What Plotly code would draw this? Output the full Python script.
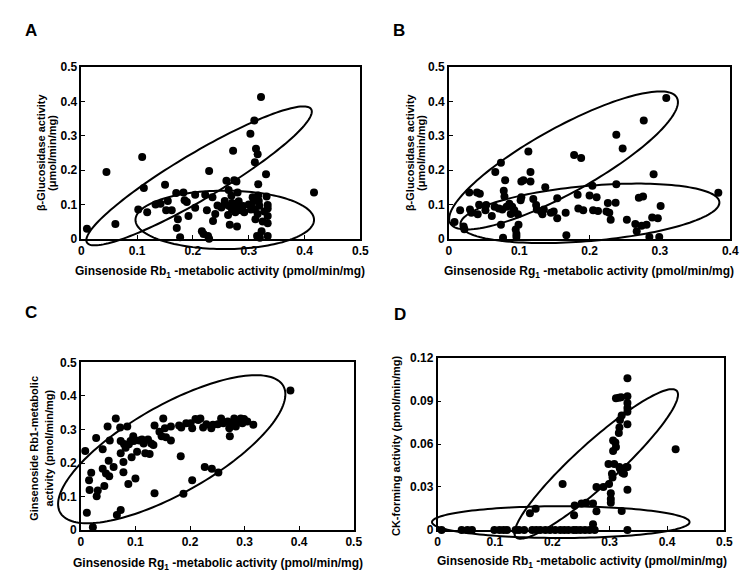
import numpy as np
import plotly.graph_objects as go

# Panel A: Rb1-metabolic activity vs beta-glucosidase activity
a_x = [0.010, 0.045, 0.061, 0.109, 0.112, 0.102, 0.118, 0.133, 0.142, 0.150, 0.152, 0.155, 0.162,
       0.170, 0.173, 0.171, 0.177, 0.183, 0.185, 0.189, 0.192, 0.204, 0.204, 0.216, 0.219, 0.222,
       0.225, 0.227, 0.229, 0.229, 0.235, 0.236, 0.240, 0.244, 0.251, 0.256, 0.257, 0.260, 0.263,
       0.264, 0.266, 0.269, 0.270, 0.270, 0.272, 0.274, 0.275, 0.276, 0.278, 0.280, 0.279, 0.282,
       0.284, 0.286, 0.292, 0.303, 0.304, 0.307, 0.309, 0.310, 0.311, 0.311, 0.312, 0.313, 0.315,
       0.316, 0.316, 0.317, 0.317, 0.319, 0.320, 0.322, 0.323, 0.325, 0.328, 0.331, 0.332, 0.334,
       0.334, 0.334, 0.334, 0.334, 0.417, 0.300, 0.305, 0.318, 0.290, 0.265]
a_y = [0.029, 0.194, 0.043, 0.238, 0.148, 0.085, 0.077, 0.100, 0.102, 0.157, 0.083, 0.110, 0.083,
       0.133, 0.057, 0.031, 0.004, 0.135, 0.112, 0.107, 0.066, 0.090, 0.128, 0.022, 0.014, 0.128,
       0.083, 0.008, 0.000, 0.197, 0.121, 0.052, 0.072, 0.097, 0.091, 0.099, 0.110, 0.169, 0.069,
       0.142, 0.041, 0.125, 0.104, 0.085, 0.256, 0.170, 0.093, 0.077, 0.167, 0.135, 0.036, 0.109,
       0.091, 0.083, 0.077, 0.306, 0.085, 0.121, 0.110, 0.344, 0.085, 0.223, 0.057, 0.262, 0.008,
       0.246, 0.072, 0.159, 0.126, 0.096, 0.003, 0.413, 0.022, 0.050, 0.079, 0.188, 0.123, 0.098,
       0.088, 0.066, 0.045, 0.008, 0.135, 0.100, 0.095, 0.110, 0.095, 0.095]

# Panel B: Rg1-metabolic activity vs beta-glucosidase activity
b_x = [0.008, 0.016, 0.021, 0.022, 0.029, 0.030, 0.032, 0.040, 0.041, 0.043, 0.044, 0.052, 0.053,
       0.061, 0.065, 0.066, 0.071, 0.074, 0.074, 0.076, 0.077, 0.078, 0.079, 0.080, 0.082, 0.086,
       0.088, 0.090, 0.093, 0.095, 0.096, 0.096, 0.098, 0.099, 0.102, 0.103, 0.103, 0.106, 0.113,
       0.116, 0.116, 0.120, 0.124, 0.125, 0.131, 0.133, 0.135, 0.137, 0.145, 0.149, 0.154, 0.154,
       0.166, 0.167, 0.178, 0.183, 0.184, 0.188, 0.191, 0.200, 0.204, 0.205, 0.210, 0.212, 0.224,
       0.226, 0.228, 0.230, 0.238, 0.238, 0.237, 0.247, 0.253, 0.265, 0.267, 0.270, 0.274, 0.276,
       0.277, 0.281, 0.285, 0.289, 0.291, 0.297, 0.299, 0.301, 0.309, 0.383]
b_y = [0.049, 0.083, 0.036, 0.028, 0.135, 0.085, 0.076, 0.135, 0.071, 0.099, 0.131, 0.083, 0.098,
       0.066, 0.093, 0.194, 0.088, 0.041, 0.221, 0.085, 0.003, 0.140, 0.123, 0.170, 0.093, 0.102,
       0.072, 0.093, 0.083, 0.027, 0.014, 0.006, 0.071, 0.041, 0.112, 0.167, 0.121, 0.170, 0.254,
       0.194, 0.167, 0.116, 0.098, 0.085, 0.079, 0.071, 0.085, 0.150, 0.076, 0.079, 0.118, 0.060,
       0.076, 0.010, 0.244, 0.128, 0.088, 0.235, 0.083, 0.126, 0.154, 0.083, 0.121, 0.081, 0.079,
       0.104, 0.076, 0.055, 0.303, 0.159, 0.105, 0.263, 0.055, 0.043, 0.022, 0.119, 0.038, 0.123,
       0.344, 0.041, 0.005, 0.062, 0.188, 0.060, 0.005, 0.095, 0.410, 0.134]

# Panel C: Rg1-metabolic vs Rb1-metabolic activity
c_x = [0.008, 0.011, 0.015, 0.016, 0.019, 0.022, 0.028, 0.029, 0.031, 0.040, 0.040, 0.043, 0.046,
       0.049, 0.051, 0.052, 0.053, 0.060, 0.064, 0.066, 0.072, 0.073, 0.073, 0.073, 0.078, 0.078,
       0.079, 0.082, 0.085, 0.087, 0.088, 0.091, 0.093, 0.096, 0.097, 0.100, 0.103, 0.107, 0.112,
       0.115, 0.118, 0.123, 0.126, 0.129, 0.133, 0.135, 0.135, 0.144, 0.148, 0.151, 0.154, 0.156,
       0.165, 0.165, 0.180, 0.183, 0.184, 0.188, 0.193, 0.201, 0.204, 0.204, 0.210, 0.215, 0.219,
       0.224, 0.227, 0.230, 0.239, 0.240, 0.242, 0.251, 0.252, 0.257, 0.261, 0.269, 0.272, 0.273,
       0.276, 0.281, 0.284, 0.287, 0.293, 0.296, 0.299, 0.305, 0.316, 0.384]
c_y = [0.236, 0.052, 0.149, 0.120, 0.171, 0.009, 0.275, 0.101, 0.118, 0.241, 0.183, 0.132, 0.169,
       0.309, 0.207, 0.161, 0.267, 0.188, 0.333, 0.045, 0.306, 0.060, 0.229, 0.266, 0.203, 0.173,
       0.257, 0.246, 0.309, 0.138, 0.256, 0.266, 0.217, 0.280, 0.266, 0.154, 0.234, 0.267, 0.270,
       0.258, 0.229, 0.270, 0.227, 0.258, 0.254, 0.312, 0.110, 0.293, 0.280, 0.333, 0.304, 0.277,
       0.267, 0.309, 0.312, 0.220, 0.306, 0.109, 0.319, 0.319, 0.304, 0.149, 0.331, 0.328, 0.333,
       0.306, 0.188, 0.316, 0.304, 0.183, 0.314, 0.316, 0.172, 0.333, 0.319, 0.324, 0.304, 0.280,
       0.314, 0.333, 0.309, 0.324, 0.333, 0.319, 0.331, 0.324, 0.314, 0.416]

# Panel D: Rb1-metabolic vs CK-forming activity
d_x = [0.007, 0.042, 0.052, 0.060, 0.099, 0.108, 0.115, 0.121, 0.136, 0.142, 0.151, 0.165, 0.172,
       0.179, 0.188, 0.196, 0.205, 0.214, 0.221, 0.228, 0.237, 0.242, 0.249, 0.257, 0.265, 0.274,
       0.331, 0.271, 0.161, 0.171, 0.218, 0.238, 0.239, 0.251, 0.259, 0.271, 0.277, 0.277, 0.289,
       0.298, 0.299, 0.302, 0.302, 0.302, 0.304, 0.305, 0.306, 0.306, 0.308, 0.310, 0.311, 0.311,
       0.316, 0.317, 0.316, 0.317, 0.318, 0.318, 0.320, 0.321, 0.322, 0.321, 0.325, 0.329, 0.331,
       0.331, 0.331, 0.331, 0.331, 0.331, 0.331, 0.331, 0.415]
d_y = [0.0, 0.0, 0.0, 0.0, 0.0, 0.0, 0.0, 0.0, 0.0, 0.0, 0.0, 0.0, 0.0,
       0.0, 0.0, 0.0, 0.0, 0.0, 0.0, 0.0, 0.0, 0.0, 0.0, 0.0, 0.0, 0.0,
       0.0, 0.004, 0.0116, 0.0148, 0.032, 0.0102, 0.017, 0.0184, 0.0189, 0.0184, 0.013, 0.030, 0.030,
       0.046, 0.032, 0.0257, 0.0216, 0.0189, 0.0393, 0.0366, 0.0625, 0.0552, 0.046, 0.061, 0.058, 0.092,
       0.0923, 0.0439, 0.0677, 0.0716, 0.0768, 0.0427, 0.0927, 0.080, 0.040, 0.0132, 0.0393, 0.0439, 0.106,
       0.0934, 0.0886, 0.0852, 0.0825, 0.0739, 0.0439, 0.028, 0.0564]

# ellipses drawn by hand on the original: center, semi-axis vector U, semi-axis vector V (data units)
a_ellipses = [((0.211, 0.183), (0.201, 0.194), (-0.021, 0.057)),
              ((0.257, 0.055), (0.160, 0.0), (0.0, 0.085))]
b_ellipses = [((0.163, 0.228), (0.161, 0.183), (-0.0226, 0.0829)),
              ((0.2005, 0.074), (0.184, 0.033), (-0.0035, 0.080))]
c_ellipses = [((0.1665, 0.2413), (0.2043, 0.189), (-0.0403, 0.1136))]
d_ellipses = [((0.2148, 0.00545), (0.2245, 0.0), (0.0, 0.0111)),
              ((0.2766, 0.0461), (0.1403, 0.0511), (-0.0252, 0.01087))]

FONT = "Liberation Sans, Arial, sans-serif"
W, H = 749, 578

panels = [
    dict(x=a_x, y=a_y, ell=a_ellipses, xr=[0, 0.5], yr=[0, 0.5], dx=0.1, dy=0.1,
         xdom=[71.5, 355], ydom=[53.3, 229.3]),
    dict(x=b_x, y=b_y, ell=b_ellipses, xr=[0, 0.4], yr=[0, 0.5], dx=0.1, dy=0.1,
         xdom=[445, 731], ydom=[53.3, 229.3]),
    dict(x=c_x, y=c_y, ell=c_ellipses, xr=[0, 0.5], yr=[0, 0.5], dx=0.1, dy=0.1,
         xdom=[71, 348.3], ydom=[356, 528]),
    dict(x=d_x, y=d_y, ell=d_ellipses, xr=[0, 0.5], yr=[0, 0.12], dx=0.1, dy=0.03,
         xdom=[433.5, 725], ydom=[351.7, 527.7]),
]

fig = go.Figure()
shapes = []
t = np.linspace(0, 2 * np.pi, 160)

for i, p in enumerate(panels):
    n = "" if i == 0 else str(i + 1)
    fig.add_trace(go.Scatter(
        x=p["x"], y=p["y"], mode="markers", xaxis="x" + n, yaxis="y" + n,
        marker=dict(color="black", size=8), cliponaxis=False, showlegend=False,
    ))
    axis_style = dict(showline=True, mirror=True, linecolor="black", linewidth=1.5,
                      ticks="inside", ticklen=4, tickcolor="black", showgrid=False,
                      zeroline=False, tickfont=dict(family=FONT, size=12, color="black", weight="bold"))
    fig.layout["xaxis" + n] = dict(
        domain=[p["xdom"][0] / W, p["xdom"][1] / W], range=p["xr"], dtick=p["dx"],
        anchor="y" + n, **axis_style)
    fig.layout["yaxis" + n] = dict(
        domain=[1 - p["ydom"][1] / H, 1 - p["ydom"][0] / H], range=p["yr"], dtick=p["dy"],
        anchor="x" + n, **axis_style)
    # ellipses in axis-domain units so they are not clipped at the frame
    for (cx, cy), (ux, uy), (vx, vy) in p["ell"]:
        ex = cx + ux * np.cos(t) + vx * np.sin(t)
        ey = cy + uy * np.cos(t) + vy * np.sin(t)
        fx = (ex - p["xr"][0]) / (p["xr"][1] - p["xr"][0])
        fy = (ey - p["yr"][0]) / (p["yr"][1] - p["yr"][0])
        path = "M " + " L ".join(f"{a:.4f},{b:.4f}" for a, b in zip(fx, fy)) + " Z"
        shapes.append(dict(type="path", path=path, xref="x" + n + " domain",
                           yref="y" + n + " domain", line=dict(color="black", width=2)))


def ann(text, x, y, size=11, angle=0):
    return dict(text=text, x=x / W, y=1 - y / H, xref="paper", yref="paper",
                showarrow=False, textangle=angle, xanchor="center", yanchor="middle",
                font=dict(family=FONT, size=size, color="black", weight="bold"))


rb1 = "Ginsenoside Rb<sub>1</sub> -metabolic activity (pmol/min/mg)"
rg1 = "Ginsenoside Rg<sub>1</sub> -metabolic activity (pmol/min/mg)"
annotations = [
    ann("A", 20, 15.5, size=17), ann("B", 394, 15.5, size=17),
    ann("C", 20, 305, size=17), ann("D", 395, 307, size=17),
    ann(rb1, 212, 263, size=12), ann(rg1, 587, 263, size=12),
    ann(rg1, 210, 563, size=12), ann(rb1, 580, 561, size=12),
    ann("β-Glucosidase activity", 30, 141, angle=-90), ann("(μmol/min/mg)", 41, 141, angle=-90),
    ann("β-Glucosidase activity", 405, 141, angle=-90), ann("(μmol/min/mg)", 416, 141, angle=-90),
    ann("Ginsenoside Rb1-metabolic", 24, 444, angle=-90), ann("activity (pmol/min/mg)", 39, 444, angle=-90),
    ann("CK-forming activity (pmol/min/mg)", 392, 441, angle=-90),
]

fig.update_layout(
    width=W, height=H, margin=dict(l=0, r=0, t=0, b=0),
    paper_bgcolor="white", plot_bgcolor="white",
    shapes=shapes, annotations=annotations,
)

fig.write_html("out.html")
